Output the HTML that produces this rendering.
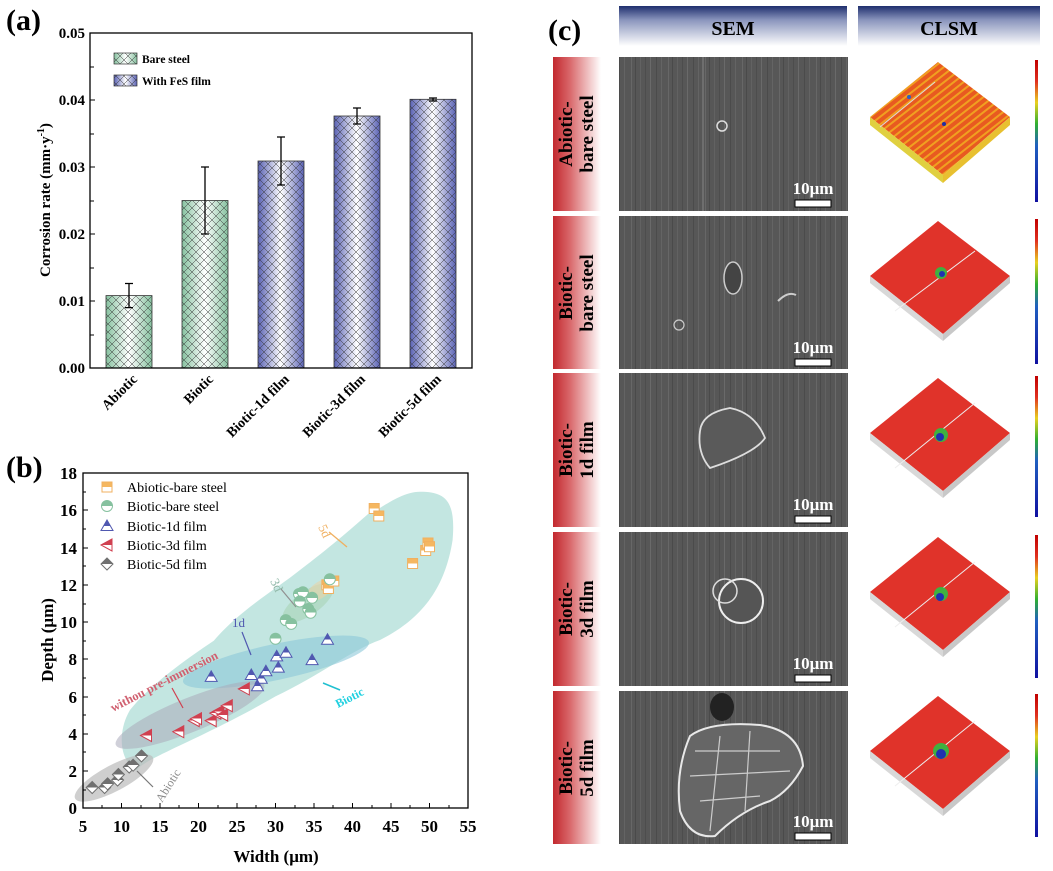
<!DOCTYPE html>
<html><head><meta charset="utf-8"><style>
html,body{margin:0;padding:0;background:#fff}
svg{display:block}
text{font-family:"Liberation Serif",serif}
</style></head><body>
<svg width="1053" height="871" viewBox="0 0 1053 871" xmlns="http://www.w3.org/2000/svg">
<defs>
<linearGradient id="gG" x1="0" x2="1" y1="0" y2="0"><stop offset="0" stop-color="#86c19f"/><stop offset="0.5" stop-color="#ffffff"/><stop offset="1" stop-color="#86c19f"/></linearGradient>
<linearGradient id="gB" x1="0" x2="1" y1="0" y2="0"><stop offset="0" stop-color="#5a62b4"/><stop offset="0.5" stop-color="#ffffff"/><stop offset="1" stop-color="#5a62b4"/></linearGradient>
<pattern id="hatch" width="8" height="8" patternUnits="userSpaceOnUse"><path d="M0,0L8,8M8,0L0,8" stroke="#333" stroke-width="0.5" fill="none"/></pattern>
<linearGradient id="hdr" x1="0" x2="0" y1="0" y2="1"><stop offset="0" stop-color="#1f2f6e"/><stop offset="0.35" stop-color="#8a95bd"/><stop offset="1" stop-color="#ffffff"/></linearGradient>
<linearGradient id="lab" x1="0" x2="1" y1="0" y2="0"><stop offset="0" stop-color="#c2282e"/><stop offset="0.35" stop-color="#d9676a"/><stop offset="1" stop-color="#ffffff"/></linearGradient>
<pattern id="sem" width="37" height="10" patternUnits="userSpaceOnUse"><rect width="37" height="10" fill="#575757"/><rect x="2" width="1" height="10" fill="#676767"/><rect x="6" width="1" height="10" fill="#4a4a4a"/><rect x="11" width="1" height="10" fill="#626262"/><rect x="16" width="1" height="10" fill="#4d4d4d"/><rect x="21" width="1" height="10" fill="#6a6a6a"/><rect x="27" width="1" height="10" fill="#4b4b4b"/><rect x="32" width="1" height="10" fill="#646464"/></pattern>
<linearGradient id="cbar" x1="0" x2="0" y1="0" y2="1"><stop offset="0" stop-color="#c00000"/><stop offset="0.15" stop-color="#e03020"/><stop offset="0.3" stop-color="#e8d020"/><stop offset="0.45" stop-color="#30b030"/><stop offset="0.6" stop-color="#2060c0"/><stop offset="1" stop-color="#1010a0"/></linearGradient>
<pattern id="stripe" width="6" height="6" patternUnits="userSpaceOnUse" patternTransform="rotate(-38)"><rect width="6" height="6" fill="#e85a20"/><rect width="6" height="2" fill="#f0a020"/></pattern>
<linearGradient id="mO" x1="0" x2="0" y1="0" y2="1"><stop offset="0.5" stop-color="#f5b760"/><stop offset="0.5" stop-color="#fff"/></linearGradient>
<linearGradient id="mG" x1="0" x2="0" y1="0" y2="1"><stop offset="0.5" stop-color="#86c19f"/><stop offset="0.5" stop-color="#fff"/></linearGradient>
<linearGradient id="mBl" x1="0" x2="0" y1="0" y2="1"><stop offset="0.55" stop-color="#5058b0"/><stop offset="0.55" stop-color="#fff"/></linearGradient>
<linearGradient id="mR" x1="0" x2="0" y1="0" y2="1"><stop offset="0.5" stop-color="#d04050"/><stop offset="0.5" stop-color="#fff"/></linearGradient>
<linearGradient id="mK" x1="0" x2="0" y1="0" y2="1"><stop offset="0.5" stop-color="#707070"/><stop offset="0.5" stop-color="#fff"/></linearGradient>
</defs>

<!-- Panel a -->
<text x="6" y="30" font-size="30" font-weight="bold">(a)</text>
<g font-size="15" font-weight="bold" text-anchor="end">
<text x="85" y="38">0.05</text><text x="85" y="105">0.04</text><text x="85" y="172">0.03</text><text x="85" y="239">0.02</text><text x="85" y="306">0.01</text><text x="85" y="373">0.00</text>
</g>
<text transform="translate(50,200) rotate(-90)" font-size="15" font-weight="bold" text-anchor="middle">Corrosion rate (mm·y<tspan font-size="10" dy="-6">-1</tspan><tspan dy="6">)</tspan></text>
<g>
<rect x="106" y="295.6" width="46" height="72.4" fill="url(#gG)"/><rect x="106" y="295.6" width="46" height="72.4" fill="url(#hatch)" stroke="#333" stroke-width="0.8"/>
<rect x="182" y="200.5" width="46" height="167.5" fill="url(#gG)"/><rect x="182" y="200.5" width="46" height="167.5" fill="url(#hatch)" stroke="#333" stroke-width="0.8"/>
<rect x="258" y="161" width="46" height="207" fill="url(#gB)"/><rect x="258" y="161" width="46" height="207" fill="url(#hatch)" stroke="#333" stroke-width="0.8"/>
<rect x="334" y="116" width="46" height="252" fill="url(#gB)"/><rect x="334" y="116" width="46" height="252" fill="url(#hatch)" stroke="#333" stroke-width="0.8"/>
<rect x="410" y="99.3" width="46" height="268.7" fill="url(#gB)"/><rect x="410" y="99.3" width="46" height="268.7" fill="url(#hatch)" stroke="#333" stroke-width="0.8"/>
</g>
<g stroke="#000" stroke-width="1.3">
<path d="M129,283.5V307.6M125,283.5H133M125,307.6H133"/>
<path d="M205,167V234M201,167H209M201,234H209"/>
<path d="M281,137V185M277,137H285M277,185H285"/>
<path d="M357,108V124M353,108H361M353,124H361"/>
<path d="M433,98V101M429,98H437M429,101H437"/>
</g>
<rect x="90" y="33" width="382" height="335" fill="none" stroke="#000" stroke-width="1.3"/>
<g stroke="#000" stroke-width="1"><path d="M90,67h4M90,134h4M90,201h4M90,268h4M90,335h4M90,100h5M90,167h5M90,234h5M90,301h5"/></g>
<rect x="114" y="53" width="23" height="11" fill="url(#gG)"/><rect x="114" y="53" width="23" height="11" fill="url(#hatch)" stroke="#333" stroke-width="0.7"/>
<rect x="114" y="75" width="23" height="11" fill="url(#gB)"/><rect x="114" y="75" width="23" height="11" fill="url(#hatch)" stroke="#333" stroke-width="0.7"/>
<text x="142" y="63" font-size="11.5" font-weight="bold">Bare steel</text>
<text x="142" y="85" font-size="11.5" font-weight="bold">With FeS film</text>
<g font-size="14" font-weight="bold" text-anchor="end">
<text transform="translate(138,380) rotate(-45)">Abiotic</text>
<text transform="translate(214,380) rotate(-45)">Biotic</text>
<text transform="translate(290,380) rotate(-45)">Biotic-1d film</text>
<text transform="translate(366,380) rotate(-45)">Biotic-3d film</text>
<text transform="translate(442,380) rotate(-45)">Biotic-5d film</text>
</g>

<!-- Panel b -->
<text x="6" y="477" font-size="30" font-weight="bold">(b)</text>
<g opacity="0.85">
<path d="M136.9,770.8 C140,760 200,740 275.5,696.4 C320,675 352.5,649.9 380,640 C420,620 444.9,590 452.6,540 C456,500 445,491.8 420,491.8 C400,491.8 380,510 367.9,514.1 C350,530 329.4,547.6 300,570 C275,590 240,610 213.9,640.6 C185,660 150,685 130,710 C118,730 118,760 136.9,770.8Z" fill="#b9e2dc"/>
</g>
<ellipse cx="276" cy="662" rx="95" ry="18" transform="rotate(-12 276 662)" fill="#8cc8d8" opacity="0.6"/>
<ellipse cx="190" cy="715" rx="80" ry="17" transform="rotate(-22 190 715)" fill="#a9a9b9" opacity="0.55"/>
<ellipse cx="114" cy="778" rx="44" ry="13" transform="rotate(-28 114 778)" fill="#bbbbbb" opacity="0.7"/>
<ellipse cx="308" cy="603" rx="30" ry="12" transform="rotate(-35 308 603)" fill="#a8d4b5" opacity="0.6"/>
<ellipse cx="320" cy="590" rx="15" ry="8" transform="rotate(-35 320 590)" fill="#e8d4a8" opacity="0.6"/>
<text transform="translate(318,527) rotate(65)" font-size="13" fill="#f0b060">5d</text>
<path d="M329,532 L347,547" stroke="#f0b060" stroke-width="1.3"/>
<text transform="translate(270,581) rotate(65)" font-size="13" fill="#90b8a8">3d</text>
<path d="M281,589 L296,607" stroke="#909090" stroke-width="1.2"/>
<text x="232" y="627" font-size="13" fill="#5058b0">1d</text>
<path d="M242,632 L251,655" stroke="#5058b0" stroke-width="1.2"/>
<text transform="translate(113,712) rotate(-27)" font-size="12.5" font-weight="bold" fill="#d06070">withou pre-immersion</text>
<path d="M172,688 L183,708" stroke="#d04050" stroke-width="1.2"/>
<text transform="translate(338,708) rotate(-27)" font-size="12" font-weight="bold" fill="#20d0e0">Biotic</text>
<path d="M340,690 L323,683" stroke="#20c0d0" stroke-width="1.5"/>
<text transform="translate(162,803) rotate(-58)" font-size="12" fill="#888">Abiotic</text>
<path d="M153,787 L137,771" stroke="#777" stroke-width="1.2"/>
<g stroke-width="1">
<g fill="url(#mO)" stroke="#f0b060">
<rect x="369.2" y="503.5" width="10" height="10"/><rect x="373.8" y="511" width="10" height="10"/><rect x="407.6" y="558.5" width="10" height="10"/><rect x="420.7" y="545.5" width="10" height="10"/><rect x="423" y="538" width="10" height="10"/><rect x="424.5" y="541.7" width="10" height="10"/><rect x="321.9" y="579.8" width="10" height="10"/><rect x="323.4" y="583.5" width="10" height="10"/><rect x="328.8" y="576" width="10" height="10"/>
</g>
<g fill="url(#mG)" stroke="#86c19f">
<circle cx="299" cy="594" r="5.5"/><circle cx="302.9" cy="592.2" r="5.5"/><circle cx="299.8" cy="601.5" r="5.5"/><circle cx="312.1" cy="597.8" r="5.5"/><circle cx="308.3" cy="609" r="5.5"/><circle cx="310.6" cy="612.7" r="5.5"/><circle cx="285.8" cy="620.1" r="5.5"/><circle cx="291.2" cy="623.9" r="5.5"/><circle cx="275.5" cy="638.7" r="5.5"/><circle cx="329.8" cy="579.2" r="5.5"/>
</g>
<g fill="url(#mBl)" stroke="#5058b0">
<path d="M211.2,670.9 l-6,10.5 h12z"/><path d="M251.3,669 l-6,10.5 h12z"/><path d="M261.3,672.7 l-6,10.5 h12z"/><path d="M257.5,680.2 l-6,10.5 h12z"/><path d="M265.9,665.3 l-6,10.5 h12z"/><path d="M276.7,650.4 l-6,10.5 h12z"/><path d="M286,646.7 l-6,10.5 h12z"/><path d="M278.3,661.6 l-6,10.5 h12z"/><path d="M312.1,654.1 l-6,10.5 h12z"/><path d="M327.5,633.7 l-6,10.5 h12z"/>
</g>
<g fill="url(#mR)" stroke="#d04050">
<path d="M140.5,735.5 l11,-6 v12z"/><path d="M172.8,731.7 l11,-6 v12z"/><path d="M188.2,720.6 l11,-6 v12z"/><path d="M190.5,718.7 l11,-6 v12z"/><path d="M205.2,720.6 l11,-6 v12z"/><path d="M209.8,713.1 l11,-6 v12z"/><path d="M212.9,711.3 l11,-6 v12z"/><path d="M216.7,715 l11,-6 v12z"/><path d="M221.3,705.7 l11,-6 v12z"/><path d="M238.3,688.9 l11,-6 v12z"/>
</g>
<g fill="url(#mK)" stroke="#707070">
<path d="M92.2,781.5 l6,6 -6,6 -6,-6z"/><path d="M104.6,781.5 l6,6 -6,6 -6,-6z"/><path d="M107.6,777.8 l6,6 -6,6 -6,-6z"/><path d="M117.6,774 l6,6 -6,6 -6,-6z"/><path d="M118.4,768.5 l6,6 -6,6 -6,-6z"/><path d="M129.2,761 l6,6 -6,6 -6,-6z"/><path d="M133.1,759.2 l6,6 -6,6 -6,-6z"/><path d="M141.5,749.9 l6,6 -6,6 -6,-6z"/>
</g>
</g>
<rect x="102" y="482" width="10" height="10" fill="url(#mO)" stroke="#f0b060" stroke-width="1"/>
<circle cx="107" cy="506" r="5.5" fill="url(#mG)" stroke="#86c19f" stroke-width="1"/>
<path d="M107,520 l-6,10.5 h12z" fill="url(#mBl)" stroke="#5058b0" stroke-width="1"/>
<path d="M101,545 l11,-6 v12z" fill="url(#mR)" stroke="#d04050" stroke-width="1"/>
<path d="M107,558 l6,6 -6,6 -6,-6z" fill="url(#mK)" stroke="#707070" stroke-width="1"/>
<g font-size="14">
<text x="127" y="492">Abiotic-bare steel</text><text x="127" y="511">Biotic-bare steel</text><text x="127" y="531">Biotic-1d film</text><text x="127" y="550">Biotic-3d film</text><text x="127" y="569">Biotic-5d film</text>
</g>
<rect x="83" y="473" width="385" height="335" fill="none" stroke="#000" stroke-width="1.3"/>
<g stroke="#000" stroke-width="1">
<path d="M83,771h5M83,734h5M83,697h5M83,659h5M83,622h5M83,585h5M83,548h5M83,510h5M83,790h3M83,752h3M83,715h3M83,678h3M83,641h3M83,604h3M83,566h3M83,529h3M83,492h3"/>
<path d="M121.5,808v-5M160,808v-5M198.5,808v-5M237,808v-5M275.5,808v-5M314,808v-5M352.5,808v-5M391,808v-5M429.5,808v-5M102,808v-3M141,808v-3M179,808v-3M218,808v-3M256,808v-3M295,808v-3M333,808v-3M372,808v-3M410,808v-3M449,808v-3"/>
</g>
<g font-size="17" font-weight="bold" text-anchor="end">
<text x="77" y="814">0</text><text x="77" y="777">2</text><text x="77" y="740">4</text><text x="77" y="703">6</text><text x="77" y="665">8</text><text x="77" y="628">10</text><text x="77" y="591">12</text><text x="77" y="554">14</text><text x="77" y="516">16</text><text x="77" y="479">18</text>
</g>
<g font-size="17" font-weight="bold" text-anchor="middle">
<text x="83" y="832">5</text><text x="121.5" y="832">10</text><text x="160" y="832">15</text><text x="198.5" y="832">20</text><text x="237" y="832">25</text><text x="275.5" y="832">30</text><text x="314" y="832">35</text><text x="352.5" y="832">40</text><text x="391" y="832">45</text><text x="429.5" y="832">50</text><text x="468" y="832">55</text>
</g>
<text x="276" y="862" font-size="17" font-weight="bold" text-anchor="middle">Width (μm)</text>
<text transform="translate(53,640) rotate(-90)" font-size="17" font-weight="bold" text-anchor="middle">Depth (μm)</text>

<!-- Panel c -->
<text x="548" y="40" font-size="30" font-weight="bold">(c)</text>
<rect x="619" y="6" width="228" height="40" fill="url(#hdr)"/>
<rect x="858" y="6" width="182" height="40" fill="url(#hdr)"/>
<text x="733" y="35" font-size="20" font-weight="bold" text-anchor="middle">SEM</text>
<text x="949" y="35" font-size="20" font-weight="bold" text-anchor="middle">CLSM</text>

<g>
<g transform="translate(0,57)">
<rect x="553" y="0" width="48" height="154" fill="url(#lab)"/>
<text transform="translate(572,77) rotate(-90)" font-size="19" font-weight="bold" text-anchor="middle">Abiotic-</text>
<text transform="translate(593,77) rotate(-90)" font-size="19" font-weight="bold" text-anchor="middle">bare steel</text>
<rect x="619" y="0" width="229" height="154" fill="url(#sem)"/>
<circle cx="722" cy="69" r="5" fill="none" stroke="#ddd" stroke-width="1.5"/>
<path d="M703,0V154" stroke="#777" stroke-width="1.5"/>
<polygon points="938,5 1010,60 943,118 870,60" fill="url(#stripe)"/>
<polygon points="870,60 943,118 943,126 870,68" fill="#e0d040"/><polygon points="943,118 1010,60 1010,68 943,126" fill="#e8c030"/>
<path d="M880,70 L935,25" stroke="#ddd" stroke-width="1"/>
<circle cx="944" cy="67" r="2" fill="#2030a0"/><circle cx="909" cy="40" r="2" fill="#3060c0"/>
</g>
<g transform="translate(0,216)">
<rect x="553" y="0" width="48" height="153" fill="url(#lab)"/>
<text transform="translate(572,77) rotate(-90)" font-size="19" font-weight="bold" text-anchor="middle">Biotic-</text>
<text transform="translate(593,77) rotate(-90)" font-size="19" font-weight="bold" text-anchor="middle">bare steel</text>
<rect x="619" y="0" width="229" height="153" fill="url(#sem)"/>
<ellipse cx="733" cy="62" rx="9" ry="16" fill="#444" stroke="#ccc" stroke-width="1.5"/>
<circle cx="679" cy="109" r="5" fill="none" stroke="#ccc" stroke-width="1.2"/>
<path d="M778,85 q10,-10 18,-6" stroke="#ccc" stroke-width="2" fill="none"/>
</g>
<g transform="translate(0,373)">
<rect x="553" y="0" width="48" height="154" fill="url(#lab)"/>
<text transform="translate(572,77) rotate(-90)" font-size="19" font-weight="bold" text-anchor="middle">Biotic-</text>
<text transform="translate(593,77) rotate(-90)" font-size="19" font-weight="bold" text-anchor="middle">1d film</text>
<rect x="619" y="0" width="229" height="154" fill="url(#sem)"/>
<path d="M700,58 Q702,40 730,35 Q755,40 765,65 Q755,80 710,95 Q697,80 700,58Z" fill="#5a5a5a" stroke="#ddd" stroke-width="1.8"/>
</g>
<g transform="translate(0,532)">
<rect x="553" y="0" width="48" height="154" fill="url(#lab)"/>
<text transform="translate(572,77) rotate(-90)" font-size="19" font-weight="bold" text-anchor="middle">Biotic-</text>
<text transform="translate(593,77) rotate(-90)" font-size="19" font-weight="bold" text-anchor="middle">3d film</text>
<rect x="619" y="0" width="229" height="154" fill="url(#sem)"/>
<circle cx="741" cy="69" r="22" fill="#555" stroke="#eee" stroke-width="2"/>
<circle cx="725" cy="59" r="12" fill="none" stroke="#ddd" stroke-width="1.5"/>
</g>
<g transform="translate(0,691)">
<rect x="553" y="0" width="48" height="153" fill="url(#lab)"/>
<text transform="translate(572,77) rotate(-90)" font-size="19" font-weight="bold" text-anchor="middle">Biotic-</text>
<text transform="translate(593,77) rotate(-90)" font-size="19" font-weight="bold" text-anchor="middle">5d film</text>
<rect x="619" y="0" width="229" height="153" fill="url(#sem)"/>
<path d="M690,45 Q710,30 760,34 Q800,40 803,75 Q790,100 770,110 Q740,120 715,145 Q690,148 680,120 Q675,80 690,45Z" fill="#666" stroke="#e8e8e8" stroke-width="2"/>
<path d="M695,60 L780,60 M690,85 L790,80 M700,110 L760,105 M720,45 L710,140 M750,40 L745,120" stroke="#ccc" stroke-width="1.2" fill="none"/>
<ellipse cx="722" cy="16" rx="12" ry="14" fill="#222"/>
</g>
</g>
<g>
<g transform="translate(0,216)"><polygon points="938,5 1010,60 943,118 870,60" fill="#e0332a"/><polygon points="870,60 943,118 943,125 870,67" fill="#d8d8d8"/><polygon points="943,118 1010,60 1010,67 943,125" fill="#c8c8c8"/><path d="M895,95 L975,35" stroke="#eee" stroke-width="1"/><circle cx="941" cy="57" r="6" fill="#40b040"/><circle cx="942" cy="58" r="3" fill="#2030b0"/></g>
<g transform="translate(0,373)"><polygon points="938,5 1010,60 943,118 870,60" fill="#e0332a"/><polygon points="870,60 943,118 943,125 870,67" fill="#d8d8d8"/><polygon points="943,118 1010,60 1010,67 943,125" fill="#c8c8c8"/><path d="M895,95 L975,30" stroke="#eee" stroke-width="1"/><circle cx="941" cy="62" r="7" fill="#40b040"/><circle cx="940" cy="64" r="4" fill="#2030b0"/></g>
<g transform="translate(0,532)"><polygon points="938,5 1010,60 943,118 870,60" fill="#e0332a"/><polygon points="870,60 943,118 943,125 870,67" fill="#d8d8d8"/><polygon points="943,118 1010,60 1010,67 943,125" fill="#c8c8c8"/><path d="M895,95 L975,30" stroke="#eee" stroke-width="1"/><circle cx="941" cy="62" r="7" fill="#40b040"/><circle cx="940" cy="65" r="4" fill="#2030b0"/></g>
<g transform="translate(0,691)"><polygon points="938,5 1010,60 943,118 870,60" fill="#e0332a"/><polygon points="870,60 943,118 943,125 870,67" fill="#d8d8d8"/><polygon points="943,118 1010,60 1010,67 943,125" fill="#c8c8c8"/><path d="M895,95 L975,30" stroke="#eee" stroke-width="1"/><circle cx="941" cy="60" r="8" fill="#40b040"/><circle cx="941" cy="63" r="5" fill="#2030b0"/></g>
</g>
<g>
<rect x="1035" y="60" width="3" height="142" fill="url(#cbar)"/>
<rect x="1035" y="219" width="3" height="145" fill="url(#cbar)"/>
<rect x="1035" y="376" width="3" height="141" fill="url(#cbar)"/>
<rect x="1035" y="535" width="3" height="143" fill="url(#cbar)"/>
<rect x="1035" y="694" width="3" height="143" fill="url(#cbar)"/>
</g>
<g font-size="17" font-weight="bold" fill="#fff" text-anchor="middle">
<text x="813" y="194">10μm</text><text x="813" y="353">10μm</text><text x="813" y="510">10μm</text><text x="813" y="669">10μm</text><text x="813" y="827">10μm</text>
</g>
<g fill="#fff" stroke="#000" stroke-width="1">
<rect x="795" y="200" width="36" height="7"/><rect x="795" y="359" width="36" height="7"/><rect x="795" y="516" width="36" height="7"/><rect x="795" y="675" width="36" height="7"/><rect x="795" y="833" width="36" height="7"/>
</g>
</svg>
</body></html>
